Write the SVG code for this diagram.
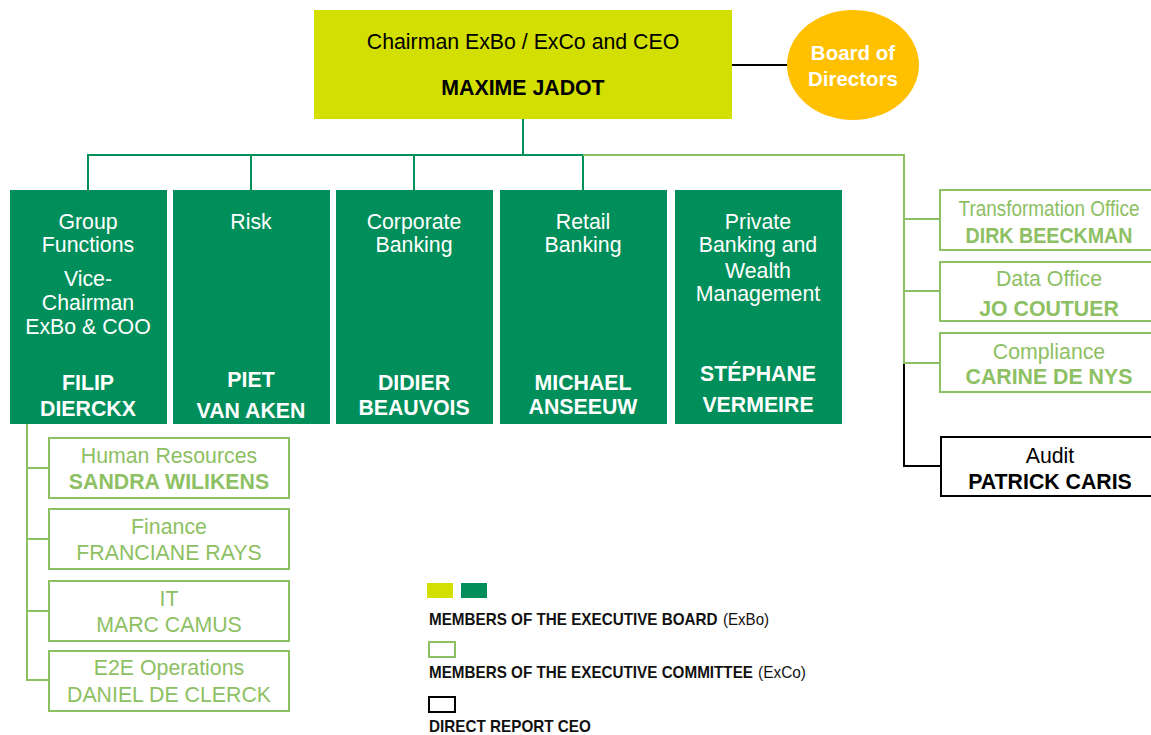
<svg xmlns="http://www.w3.org/2000/svg" width="1151" height="735" viewBox="0 0 1151 735">
<style>
text{font-family:"Liberation Sans",Arial,sans-serif;text-anchor:middle;font-size:21.3px}
.w{fill:#ffffff}
.wb{fill:#ffffff;font-weight:bold}
.dg{fill:#008F5A}
.lg{fill:#ffffff;stroke:#8DC063;stroke-width:2}
.lt{fill:#8DC063}
.ltb{fill:#8DC063;font-weight:bold}
.k{fill:#000000}
.kb{fill:#000000;font-weight:bold}
.leg{fill:#111111;font-size:16.5px;text-anchor:start}
</style>
<g id="connectors" fill="none" stroke-width="2">
<line x1="732" y1="65" x2="788" y2="65" stroke="#000"/>
<polyline points="523,119 523,155" stroke="#00905A"/>
<polyline points="88,190 88,155 583,155 583,190" stroke="#00905A"/>
<line x1="251" y1="155" x2="251" y2="190" stroke="#00905A"/>
<line x1="414" y1="155" x2="414" y2="190" stroke="#00905A"/>
<polyline points="583,155 904,155 904,364" stroke="#8DC063"/>
<line x1="904" y1="219" x2="940" y2="219" stroke="#8DC063"/>
<line x1="904" y1="291" x2="940" y2="291" stroke="#8DC063"/>
<line x1="904" y1="363" x2="940" y2="363" stroke="#8DC063"/>
<polyline points="904,364 904,466 941,466" stroke="#000"/>
<polyline points="27,424 27,680 49,680" stroke="#8DC063"/>
<line x1="27" y1="468" x2="49" y2="468" stroke="#8DC063"/>
<line x1="27" y1="539" x2="49" y2="539" stroke="#8DC063"/>
<line x1="27" y1="611" x2="49" y2="611" stroke="#8DC063"/>
</g>
<g id="ceo">
<rect x="314" y="10" width="418" height="109" fill="#D2DF00"/>
<text x="523" y="49" fill="#000">Chairman ExBo / ExCo and CEO</text>
<text x="523" y="95" fill="#000" font-weight="bold">MAXIME JADOT</text>
</g>
<g id="board">
<ellipse cx="853" cy="65" rx="66" ry="55" fill="#FFC000"/>
<text x="853" y="60" fill="#fff" font-weight="bold" style="font-size:20.5px">Board of</text>
<text x="853" y="86" fill="#fff" font-weight="bold" style="font-size:20.5px">Directors</text>
</g>
<g id="group-functions">
<rect class="dg" x="10" y="190" width="157" height="234"/>
<text class="w" x="88" y="228.5">Group</text>
<text class="w" x="88" y="252">Functions</text>
<text class="w" x="88" y="286">Vice-</text>
<text class="w" x="88" y="309.5">Chairman</text>
<text class="w" x="88" y="334">ExBo &amp; COO</text>
<text class="wb" x="88" y="389.5">FILIP</text>
<text class="wb" x="88" y="415.5">DIERCKX</text>
</g>
<g id="risk">
<rect class="dg" x="173" y="190" width="157" height="234"/>
<text class="w" x="251" y="228.5">Risk</text>
<text class="wb" x="251" y="386.5">PIET</text>
<text class="wb" x="251" y="417.5">VAN AKEN</text>
</g>
<g id="corporate">
<rect class="dg" x="336" y="190" width="157" height="234"/>
<text class="w" x="414" y="228.5">Corporate</text>
<text class="w" x="414" y="252">Banking</text>
<text class="wb" x="414" y="389.5">DIDIER</text>
<text class="wb" x="414" y="414.5">BEAUVOIS</text>
</g>
<g id="retail">
<rect class="dg" x="500" y="190" width="167" height="234"/>
<text class="w" x="583" y="228.5">Retail</text>
<text class="w" x="583" y="252">Banking</text>
<text class="wb" x="583" y="389.5">MICHAEL</text>
<text class="wb" x="583" y="414">ANSEEUW</text>
</g>
<g id="private">
<rect class="dg" x="675" y="190" width="167" height="234"/>
<text class="w" x="758" y="228.5">Private</text>
<text class="w" x="758" y="252">Banking and</text>
<text class="w" x="758" y="277.5">Wealth</text>
<text class="w" x="758" y="301">Management</text>
<text class="wb" x="758" y="380.5">STÉPHANE</text>
<text class="wb" x="758" y="411.5">VERMEIRE</text>
</g>
<g id="transformation">
<rect class="lg" x="940" y="190" width="220" height="60"/>
<g transform="translate(1049,216) scale(0.9,1)"><text class="lt" x="0" y="0" textLength="201" lengthAdjust="spacingAndGlyphs">Transformation Office</text></g>
<g transform="translate(1049,242.5) scale(0.9,1)"><text class="ltb" x="0" y="0" textLength="185.5" lengthAdjust="spacingAndGlyphs">DIRK BEECKMAN</text></g>
</g>
<g id="data">
<rect class="lg" x="940" y="262" width="220" height="59"/>
<text class="lt" x="1049" y="286">Data Office</text>
<text class="ltb" x="1049" y="316">JO COUTUER</text>
</g>
<g id="compliance">
<rect class="lg" x="940" y="333" width="220" height="59"/>
<text class="lt" x="1049" y="359">Compliance</text>
<text class="ltb" x="1049" y="384">CARINE DE NYS</text>
</g>
<g id="audit">
<rect x="941" y="437" width="220" height="59" fill="#fff" stroke="#000" stroke-width="2"/>
<text class="k" x="1050" y="463">Audit</text>
<text class="kb" x="1050" y="489">PATRICK CARIS</text>
</g>
<g id="hr">
<rect class="lg" x="49" y="438" width="240" height="60"/>
<text class="lt" x="169" y="463">Human Resources</text>
<text class="ltb" x="169" y="489">SANDRA WILIKENS</text>
</g>
<g id="finance">
<rect class="lg" x="49" y="509" width="240" height="60"/>
<text class="lt" x="169" y="534">Finance</text>
<text class="lt" x="169" y="560">FRANCIANE RAYS</text>
</g>
<g id="it">
<rect class="lg" x="49" y="581" width="240" height="60"/>
<text class="lt" x="169" y="606">IT</text>
<text class="lt" x="169" y="632">MARC CAMUS</text>
</g>
<g id="e2e">
<rect class="lg" x="49" y="651" width="240" height="60"/>
<text class="lt" x="169" y="675">E2E Operations</text>
<text class="lt" x="169" y="702">DANIEL DE CLERCK</text>
</g>
<g id="legend">
<rect x="427" y="583" width="26" height="15" fill="#D2DF00"/>
<rect x="461" y="583" width="26" height="15" fill="#008F5A"/>
<g transform="translate(429,625) scale(0.925,1)"><text class="leg" x="0" y="0" font-weight="bold" textLength="312" lengthAdjust="spacingAndGlyphs">MEMBERS OF THE EXECUTIVE BOARD</text></g>
<g transform="translate(723,625) scale(0.93,1)"><text class="leg" x="0" y="0" textLength="49.5" lengthAdjust="spacingAndGlyphs">(ExBo)</text></g>
<rect x="429" y="642" width="26" height="15" fill="#fff" stroke="#8DC063" stroke-width="2"/>
<g transform="translate(429,678) scale(0.923,1)"><text class="leg" x="0" y="0" font-weight="bold" textLength="351" lengthAdjust="spacingAndGlyphs">MEMBERS OF THE EXECUTIVE COMMITTEE</text></g>
<g transform="translate(758,678) scale(0.95,1)"><text class="leg" x="0" y="0" textLength="50.5" lengthAdjust="spacingAndGlyphs">(ExCo)</text></g>
<rect x="429" y="697" width="26" height="15" fill="#fff" stroke="#000" stroke-width="2"/>
<g transform="translate(429,732) scale(0.925,1)"><text class="leg" x="0" y="0" font-weight="bold" textLength="175" lengthAdjust="spacingAndGlyphs">DIRECT REPORT CEO</text></g>
</g>
</svg>
